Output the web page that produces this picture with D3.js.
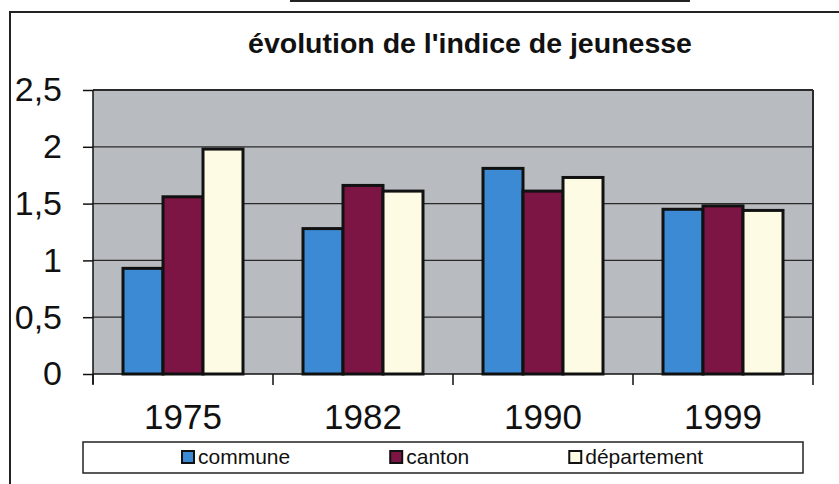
<!DOCTYPE html>
<html>
<head>
<meta charset="utf-8">
<script src="https://cdn.jsdelivr.net/npm/d3@7"></script>
<style>
  body { margin: 0; background: #fff; }
  svg { display: block; font-family: "Liberation Sans", Arial, sans-serif; }
</style>
</head>
<body>
<svg id="chart" width="839" height="484"></svg>
<script>
// data
const years = ["1975", "1982", "1990", "1999"];
const series = ["commune", "canton", "département"];
const commune = [0.93, 1.28, 1.81, 1.45];
const canton = [1.56, 1.66, 1.61, 1.48];
const departement = [1.98, 1.61, 1.73, 1.44];
const yTicks = [0, 0.5, 1, 1.5, 2, 2.5];
const colors = ["#3c89d4", "#7c1444", "#fdfbe3"];

const values = [commune, canton, departement];
const rows = years.map((y, i) => ({ year: y, vals: series.map((s, j) => ({ key: s, value: values[j][i], c: colors[j] })) }));

const svg = d3.select("#chart");
const plotL = 93, plotR = 813, plotT = 90, plotB = 374;

// outer frame fragments of the scanned page
svg.append("line").attr("x1", 290).attr("x2", 690).attr("y1", 1).attr("y2", 1)
  .attr("stroke", "#222").attr("stroke-width", 2);
svg.append("line").attr("x1", 9).attr("x2", 839).attr("y1", 12).attr("y2", 12)
  .attr("stroke", "#222").attr("stroke-width", 2);
svg.append("line").attr("x1", 10).attr("x2", 10).attr("y1", 12).attr("y2", 484)
  .attr("stroke", "#222").attr("stroke-width", 2);

// title
svg.append("text").attr("x", 470).attr("y", 53).attr("text-anchor", "middle")
  .attr("font-size", 28.5).attr("font-weight", "bold").attr("fill", "#111")
  .text("évolution de l'indice de jeunesse");

const x0 = d3.scaleBand().domain(years).range([plotL, plotR]).padding(0);
const x1 = d3.scaleBand().domain(series).range([0, x0.bandwidth()]).paddingInner(0).paddingOuter(0.75);
const y = d3.scaleLinear().domain([0, 2.5]).range([plotB, plotT]);

// plot background
svg.append("rect").attr("x", plotL).attr("y", plotT).attr("width", plotR - plotL).attr("height", plotB - plotT)
  .attr("fill", "#b8bcc0");

// gridlines
svg.append("g").selectAll("line").data(yTicks.filter(d => d > 0)).join("line")
  .attr("x1", plotL).attr("x2", plotR)
  .attr("y1", d => y(d)).attr("y2", d => y(d))
  .attr("stroke", "#2a2a2a").attr("stroke-width", d => d === 2.5 ? 2 : 1.2);

// right border of plot
svg.append("line").attr("x1", plotR).attr("x2", plotR).attr("y1", plotT).attr("y2", plotB)
  .attr("stroke", "#2a2a2a").attr("stroke-width", 2);

// bars
svg.append("g").selectAll("g").data(rows).join("g")
  .attr("transform", d => `translate(${x0(d.year)},0)`)
  .selectAll("rect").data(d => d.vals).join("rect")
  .attr("x", d => x1(d.key)).attr("width", x1.bandwidth())
  .attr("y", d => y(d.value)).attr("height", d => y(0) - y(d.value))
  .attr("fill", d => d.c).attr("stroke", "#111").attr("stroke-width", 3);

// y axis
const yAxis = svg.append("g").attr("transform", `translate(${plotL},0)`)
  .call(d3.axisLeft(y).tickValues(yTicks).tickSize(10).tickPadding(21)
    .tickFormat(d => String(d).replace(".", ",")));
yAxis.select(".domain").attr("stroke", "#111").attr("stroke-width", 1.5).attr("d", `M0,${plotT}V${plotB + 10}`);
yAxis.selectAll(".tick line").attr("stroke", "#111").attr("stroke-width", 1.5);
yAxis.selectAll("text").attr("font-size", 34).attr("fill", "#111").attr("font-family", "Liberation Sans, Arial, sans-serif");

// x axis
const xAxis = svg.append("g").attr("transform", `translate(0,${plotB})`)
  .call(d3.axisBottom(x0).tickSize(0).tickPadding(30));
xAxis.select(".domain").attr("stroke", "#111").attr("stroke-width", 1.5).attr("d", `M${plotL},0H${plotR}`);
xAxis.selectAll("text").attr("font-size", 35).attr("fill", "#111").attr("font-family", "Liberation Sans, Arial, sans-serif");
// category boundary ticks
svg.append("g").selectAll("line").data(years.map(d => x0(d)).concat([plotR])).join("line")
  .attr("x1", d => d).attr("x2", d => d).attr("y1", plotB).attr("y2", plotB + 11)
  .attr("stroke", "#111").attr("stroke-width", 1.5);

// legend
const lg = svg.append("g");
lg.append("rect").attr("x", 83).attr("y", 442).attr("width", 720).attr("height", 31)
  .attr("fill", "#fff").attr("stroke", "#222").attr("stroke-width", 1.5);
let lx = 182;
series.forEach((s, i) => {
  lg.append("rect").attr("x", lx).attr("y", 451).attr("width", 12).attr("height", 12)
    .attr("fill", colors[i]).attr("stroke", "#111").attr("stroke-width", 2);
  const t = lg.append("text").attr("x", lx + 16).attr("y", 464).attr("font-size", 21).attr("fill", "#111").text(s);
  lx += 16 + t.node().getComputedTextLength() + 100;
});
</script>
</body>
</html>
